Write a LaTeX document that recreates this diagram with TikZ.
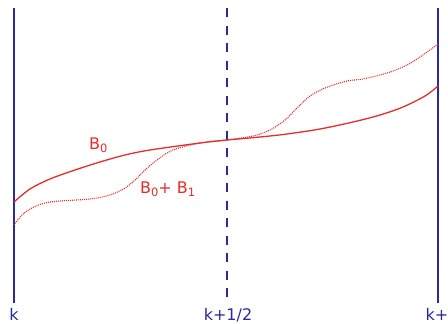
\documentclass[tikz,border=0pt]{standalone}
\usepackage{fontspec}
\setmainfont{DejaVu Sans}
\definecolor{navy}{RGB}{42,42,155}
\definecolor{curvered}{RGB}{232,44,44}
\newcommand{\subsc}[1]{{\fontsize{11.5}{12}\selectfont\raisebox{-3pt}{#1}}}
\begin{document}
\begin{tikzpicture}[x=1pt,y=-1pt,
  vline/.style={draw=navy,line width=2.2pt},
  dline/.style={draw=navy,line width=2.4pt,dash pattern=on 9pt off 8.5pt},
  lab/.style={text=navy,font=\fontsize{16}{18}\selectfont,inner sep=0pt,anchor=base},
  rlab/.style={text=curvered,font=\fontsize{16}{18}\selectfont,inner sep=0pt,anchor=base west},
  solidc/.style={draw=curvered,line width=1.3pt},
  dotc/.style={draw=curvered,line width=1.1pt,dash pattern=on 1pt off 1pt}]
\useasboundingbox (0,0) rectangle (448,324);
\coordinate (Ltop) at (14,8);
\coordinate (Lbot) at (14,303);
\coordinate (Mtop) at (227,8);
\coordinate (Mbot) at (227,303);
\coordinate (Rtop) at (438,8);
\coordinate (Rbot) at (438,303);
\draw[vline] (Ltop) -- (Lbot);
\draw[vline] (Rtop) -- (Rbot);
\draw[dline] (Mtop) -- (Mbot);
\draw[solidc] plot[smooth,tension=0.55] coordinates {(14,202) (30,189) (50,179) (75,170) (100,162) (125,155) (150,150) (200,143) (227,140) (260,137) (287,134) (320,129) (353,122) (380,115) (403,107) (425,96) (438,86)};
\draw[dotc] plot[smooth,tension=0.55] coordinates {(14,225) (22,215) (32,208) (45,203) (60,201) (90,199) (110,195) (125,188) (135,180) (145,170) (157,160) (173,150) (200,143) (227,140) (253,136) (270,130) (285,120) (297,108) (310,96) (325,88) (347,81) (363,79) (387,73) (405,66) (420,57) (438,44)};
\node[lab] (k) at (14,320) {k};
\node[lab] (kh) at (228,320) {k+1/2};
\node[lab] (k1) at (442,320) {k+1};
\node[rlab] (b0) at (89,149.5) {B\subsc{0}};
\node[rlab] (b01) at (140,193) {B\subsc{0}+ B\subsc{1}};
\end{tikzpicture}
\end{document}
